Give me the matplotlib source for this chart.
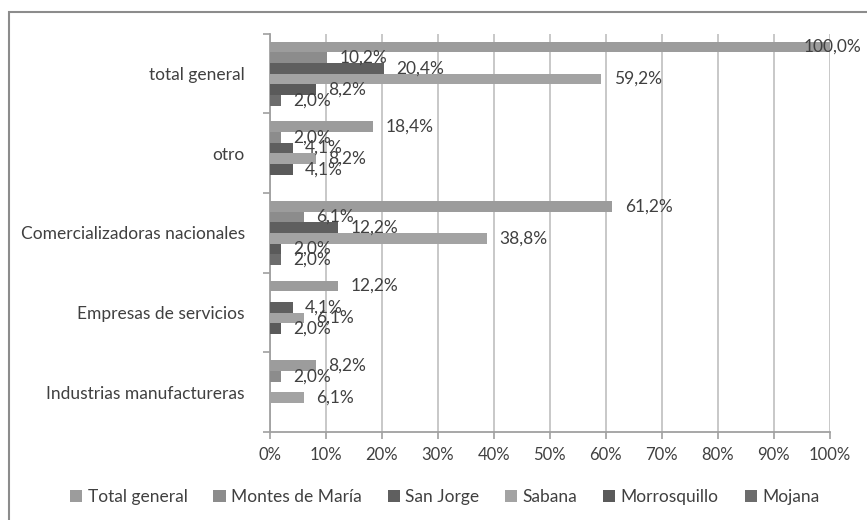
import matplotlib
matplotlib.use("Agg")
import matplotlib.pyplot as plt
from matplotlib.patches import Rectangle
import numpy as np

categories = ["Industrias manufactureras", "Empresas de servicios",
              "Comercializadoras nacionales", "otro", "total general"]
series = ["Total general", "Montes de María", "San Jorge", "Sabana",
          "Morrosquillo", "Mojana"]
total_general = [8.2, 12.2, 61.2, 18.4, 100.0]
montes_de_maria = [2.0, 0.0, 6.1, 2.0, 10.2]
san_jorge = [0.0, 4.1, 12.2, 4.1, 20.4]
sabana = [6.1, 6.1, 38.8, 8.2, 59.2]
morrosquillo = [0.0, 2.0, 2.0, 4.1, 8.2]
mojana = [0.0, 0.0, 2.0, 0.0, 2.0]
xticks = [0, 10, 20, 30, 40, 50, 60, 70, 80, 90, 100]

values = [total_general, montes_de_maria, san_jorge, sabana, morrosquillo, mojana]
colors = ["#9c9c9c", "#8c8c8c", "#5f5f5f", "#a3a3a3", "#5a5a5a", "#6c6c6c"]

plt.rcParams['font.family'] = ['Lato', 'DejaVu Sans']

fig = plt.figure(figsize=(8.67, 5.2), dpi=100)
ax = fig.add_axes([0.311, 0.169, 0.646, 0.766])

n = len(series)
group_h = 0.805
bh = group_h / n
y = np.arange(len(categories))
for i, (name, vals, c) in enumerate(zip(series, values, colors)):
    # series 0 on top within each group
    pos = y + group_h / 2 - bh * (i + 0.5)
    ax.barh(pos, vals, height=bh, color=c, label=name, zorder=3)
    for p, v in zip(pos, vals):
        if v <= 0:
            continue
        txt = f"{v:.1f}%".replace(".", ",")
        if v >= 99:
            # label that would not fit: right-aligned against the chart edge
            ax.annotate(txt, (1.0, p), xycoords=("figure fraction", "data"),
                        xytext=(-4, 0), textcoords="offset points",
                        va="center", ha="right", fontsize=12.5,
                        color="#404040", zorder=5, annotation_clip=False)
        else:
            ax.annotate(txt, (v, p),
                        xytext=(9, 0), textcoords="offset points",
                        va="center", ha="left", fontsize=12.5,
                        color="#404040", zorder=5, annotation_clip=False)

ax.set_xlim(0, 100)
ax.set_ylim(-0.5, len(categories) - 0.5)
ax.set_xticks(xticks)
ax.set_xticklabels([f"{t}%" for t in xticks], fontsize=12, color="#404040")
ax.set_yticks(y)
ax.set_yticklabels(categories, fontsize=12.5, color="#404040")
ax.tick_params(axis='y', length=0, pad=18)
ax.set_yticks(np.arange(-0.5, len(categories), 1), minor=True)
ax.tick_params(axis='y', which='minor', length=5, color="#a0a0a0", width=1.2)
ax.tick_params(axis='x', length=5, color="#a0a0a0", width=1.2, pad=6)
ax.grid(axis='x', color="#c4c4c4", linewidth=1.3, zorder=0)
for s in ["top", "right"]:
    ax.spines[s].set_visible(False)
for s in ["left", "bottom"]:
    ax.spines[s].set_color("#a0a0a0")
    ax.spines[s].set_linewidth(1.3)

handles, labels = ax.get_legend_handles_labels()
leg = fig.legend(handles, labels, loc="center", bbox_to_anchor=(0.513, 0.044),
                 ncol=6, frameon=False, fontsize=12.5, handlelength=0.7,
                 handleheight=0.7, handletextpad=0.3, columnspacing=1.5)
for t in leg.get_texts():
    t.set_color("#404040")

fig.patches.append(Rectangle((0.010, -0.01), 1.0, 0.987, transform=fig.transFigure,
                             fill=False, edgecolor="#8c8c8c", linewidth=1.5))

fig.savefig("out.png", dpi=100)
